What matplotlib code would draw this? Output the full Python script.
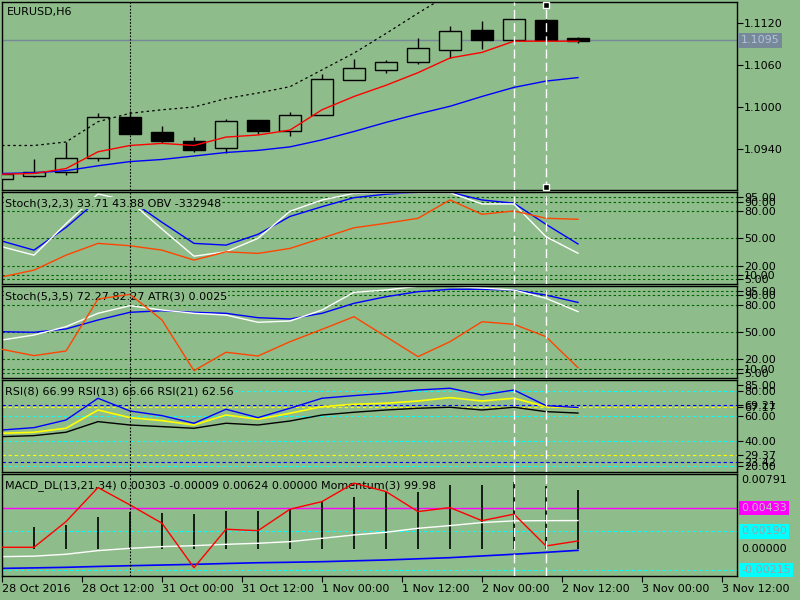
import numpy as np
import matplotlib
matplotlib.use("Agg")
import matplotlib.pyplot as plt
import matplotlib.transforms as mtransforms
from matplotlib.patches import Rectangle

W, H = 800, 600
bg = '#8FBC8B'
FS = 8
plt.rcParams['font.family'] = ['DejaVu Sans']

# ---- data (H6 bars, 28 Oct - 2 Nov 2016) ----
bars = np.arange(19)
open_ = [1.0897, 1.0902, 1.0907, 1.0927, 1.0985, 1.0964, 1.0952, 1.0941, 1.0981, 1.0965,
         1.0988, 1.1038, 1.1053, 1.1064, 1.1082, 1.1110, 1.1095, 1.1124, 1.1098]
high = [1.0904, 1.0925, 1.0950, 1.0991, 1.0994, 1.0973, 1.0957, 1.0983, 1.0982, 1.0993,
        1.1047, 1.1069, 1.1067, 1.1099, 1.1116, 1.1123, 1.1125, 1.1125, 1.1100]
low = [1.0897, 1.0900, 1.0903, 1.0923, 1.0962, 1.0949, 1.0936, 1.0934, 1.0962, 1.0959,
       1.0988, 1.1038, 1.1049, 1.1061, 1.1070, 1.1083, 1.1095, 1.1096, 1.1092]
close = [1.0904, 1.0907, 1.0927, 1.0985, 1.0962, 1.0952, 1.0939, 1.0980, 1.0965, 1.0988,
         1.1040, 1.1055, 1.1064, 1.1084, 1.1108, 1.1096, 1.1125, 1.1096, 1.1094]
ma_fast = [1.0904, 1.0905, 1.0912, 1.0936, 1.0945, 1.0948, 1.0945, 1.0957, 1.0960, 1.0967,
           1.0996, 1.1015, 1.1031, 1.1049, 1.1070, 1.1078, 1.1094, 1.1094, 1.1094]
ma_slow = [1.0905, 1.0906, 1.0909, 1.0916, 1.0922, 1.0925, 1.0930, 1.0935, 1.0938, 1.0943,
           1.0953, 1.0965, 1.0978, 1.0990, 1.1001, 1.1015, 1.1028, 1.1037, 1.1042]
band_up = [1.0945, 1.0945, 1.0950, 1.0979, 1.0991, 1.0996, 1.1000, 1.1012, 1.1020, 1.1029,
           1.1053, 1.1077, 1.1105, 1.1134, 1.1162, np.nan, np.nan, np.nan, np.nan]
bid = 1.1095

# Stoch(3,2,3) + OBV
st1_signal = [47.0, 37.1, 62.0, 92.0, 92.0, 67.6, 44.5, 42.6, 54.4, 74.0,
              84.7, 94.6, 98.4, 100.5, 100.5, 92.1, 88.5, 65.4, 43.88]
st1_main = [40.8, 31.6, 66.0, 98.7, 90.6, 60.2, 30.5, 35.3, 50.0, 79.7,
            92.0, 99.4, 100.0, 100.0, 100.0, 87.7, 87.7, 51.8, 33.71]
obv = [7.8, 15.2, 31.6, 44.5, 41.9, 37.1, 26.2, 35.3, 33.5, 39.0,
       50.3, 61.6, 66.5, 72.0, 92.1, 76.4, 80.0, 72.0, 70.9]
stoch_levels = [5, 10, 20, 50, 80, 90, 95]

# Stoch(5,3,5) + ATR
st2_signal = [50.3, 49.7, 53.3, 63.1, 71.5, 73.2, 71.5, 70.4, 65.6, 64.2,
              70.4, 81.3, 88.5, 94.0, 96.6, 96.6, 95.8, 90.3, 82.27]
st2_main = [41.3, 46.7, 55.8, 70.4, 78.7, 74.0, 70.4, 68.5, 60.6, 62.0,
            74.0, 93.3, 95.8, 100.0, 100.0, 98.0, 95.8, 86.8, 72.27]
atr = [31.1, 24.2, 29.3, 86.0, 91.1, 63.1, 7.8, 27.9, 23.8, 39.4,
       52.9, 66.7, 44.9, 23.1, 39.4, 61.2, 58.4, 44.9, 11.1]

# RSI 8 / 13 / 21
rsi8 = [49.0, 50.9, 57.0, 74.4, 64.2, 60.5, 54.4, 65.6, 58.9, 66.4,
        74.4, 76.5, 78.4, 81.0, 82.4, 77.0, 81.0, 68.5, 66.99]
rsi13 = [46.4, 47.2, 50.4, 65.0, 58.9, 56.5, 53.0, 61.0, 57.6, 62.4,
         67.7, 69.6, 70.4, 72.2, 74.9, 72.2, 74.4, 67.7, 66.66]
rsi21 = [43.7, 44.5, 47.2, 55.7, 53.0, 51.7, 50.4, 54.4, 53.0, 56.2,
         61.0, 63.2, 65.0, 66.4, 67.2, 65.0, 67.2, 63.7, 62.56]
rsi_cyan_levels = [20, 40, 60, 80]
rsi8_levels = [23.42, 69.21]
rsi13_levels = [29.37, 67.17]

# MACD_DL + Momentum (momentum shown on the MACD scale)
macd_hist = [np.nan, 0.00239, 0.00257, 0.00344, 0.00397, 0.00386, 0.00373, 0.00407, 0.00407, 0.00425,
             0.00509, 0.00554, 0.00607, 0.00607, 0.00677, 0.00677, 0.00702, 0.00667, 0.00624]
macd_line = [-0.00075, -0.00070, -0.00050, -0.00012, 0.00012, 0.00030, 0.00040, 0.00054, 0.00065, 0.00082,
             0.00117, 0.00152, 0.00180, 0.00222, 0.00250, 0.00282, 0.00300, 0.00302, 0.00303]
macd_sig = [-0.00198, -0.00193, -0.00187, -0.00178, -0.00170, -0.00163, -0.00156, -0.00147, -0.00139, -0.00134,
            -0.00128, -0.00119, -0.00110, -0.00098, -0.00086, -0.00068, -0.00050, -0.00030, -0.00009]
momentum = [0.00023, 0.00023, 0.00292, 0.00649, 0.00467, 0.00275, -0.00191, 0.00212, 0.00197, 0.00422,
            0.00502, 0.00695, 0.00607, 0.00397, 0.00439, 0.00302, 0.00370, 0.00037, 0.00089]
macd_magenta = 0.00433
macd_cyan = [0.00190, -0.00215]
macd_top = 0.00791

time_labels = ["28 Oct 2016", "28 Oct 12:00", "31 Oct 00:00", "31 Oct 12:00", "1 Nov 00:00",
               "1 Nov 12:00", "2 Nov 00:00", "2 Nov 12:00", "3 Nov 00:00", "3 Nov 12:00"]
time_pos = [0, 2.5, 5, 7.5, 10, 12.5, 15, 17.5, 20, 22.5]
cross_bar = 4
marked_bars = [16, 17]

fig = plt.figure(figsize=(W / 100, H / 100), dpi=100, facecolor=bg)


def make_panel(top, bottom, ylim):
    ax = fig.add_axes([2 / W, 1 - bottom / H, 735 / W, (bottom - top) / H])
    ax.set_facecolor(bg)
    ax.set_xlim(0, 22.97)
    ax.set_ylim(*ylim)
    for s in ax.spines.values():
        s.set_color('black')
        s.set_linewidth(1)
    ax.tick_params(axis='x', bottom=False, labelbottom=False)
    ax.yaxis.tick_right()
    ax.tick_params(axis='y', right=True, left=False, direction='out', length=4,
                   width=0.8, pad=1, labelsize=FS, colors='black')
    ax.axvline(cross_bar, color='black', lw=0.8, ls=(0, (1.5, 1.5)), zorder=6)
    for b in marked_bars:
        ax.axvline(b, color='white', lw=1, ls=(0, (6.5, 3)), zorder=6)
    return ax


def title(ax, txt, yfrac, xpx=3):
    ax.text(xpx / 735, yfrac, txt, transform=ax.transAxes, fontsize=FS, va='center',
            ha='left', zorder=4, bbox=dict(boxstyle='square,pad=0.05', fc=bg, ec='none'))


def levels(ax, vals, color, dash=(2.2, 2.2)):
    for v in vals:
        ax.axhline(v, color=color, lw=0.8, ls=(0, dash), zorder=1)


# ---- main price panel ----
ax1 = make_panel(2, 190, (1.08814, 1.1150))
ax1.axhline(bid, color='#778899', lw=1, zorder=1)
for i in bars:
    o, h, l, c = open_[i], high[i], low[i], close[i]
    ax1.vlines(i, l, h, color='black', lw=1, zorder=2)
    bear = c < o
    ax1.add_patch(Rectangle((i - 0.34, min(o, c)), 0.68, max(abs(c - o), 0.00003),
                            fc='black' if bear else bg, ec='black', lw=1, zorder=3))
ax1.plot(bars, ma_slow, color='blue', lw=1, zorder=4)
ax1.plot(bars, ma_fast, color='red', lw=1, zorder=4)
ax1.plot(bars, band_up, color='black', lw=0.9, ls=(0, (2, 2.5)), zorder=4)
ax1.set_yticks([1.0940, 1.1000, 1.1060, 1.1120])
ax1.set_yticklabels(['1.0940', '1.1000', '1.1060', '1.1120'])
tr1 = mtransforms.blended_transform_factory(ax1.transAxes, ax1.transData)
ax1.text(1.005, bid, '1.1095', transform=tr1, fontsize=FS, color='#B0C4DE', va='center',
         ha='left', bbox=dict(boxstyle='square,pad=0.2', fc='#778899', ec='none'), clip_on=False)
trm = mtransforms.blended_transform_factory(ax1.transData, ax1.transAxes)
ax1.plot([17, 17], [0.985, 0.016], 's', ms=4, mfc='black', mec='white', mew=1,
         transform=trm, zorder=7, clip_on=False)
title(ax1, 'EURUSD,H6', 0.947, xpx=5)

# ---- Stoch(3,2,3) / OBV ----
ax2 = make_panel(192, 284, (0, 100.8))
levels(ax2, stoch_levels, '#006400')
ax2.plot(bars, st1_signal, color='blue', lw=1, zorder=2)
ax2.plot(bars, st1_main, color='white', lw=1, zorder=2)
ax2.plot(bars, obv, color='#FF4500', lw=1, zorder=2)
ax2.set_yticks(stoch_levels)
ax2.set_yticklabels(['%.2f' % v for v in stoch_levels])
title(ax2, 'Stoch(3,2,3) 33.71 43.88 OBV -332948', 0.88)

# ---- Stoch(5,3,5) / ATR ----
ax3 = make_panel(286, 378, (-0.2, 100.2))
levels(ax3, stoch_levels, '#006400')
ax3.plot(bars, st2_signal, color='blue', lw=1, zorder=2)
ax3.plot(bars, st2_main, color='white', lw=1, zorder=2)
ax3.plot(bars, atr, color='#FF4500', lw=1, zorder=5)
ax3.set_yticks(stoch_levels)
ax3.set_yticklabels(['%.2f' % v for v in stoch_levels])
title(ax3, 'Stoch(5,3,5) 72.27 82.27 ATR(3) 0.0025', 0.884)

# ---- RSI ----
ax4 = make_panel(380, 472, (15.4, 89.0))
levels(ax4, rsi_cyan_levels, 'cyan', (3, 2.5))
levels(ax4, rsi13_levels, 'yellow', (3, 2.5))
levels(ax4, rsi8_levels, 'blue', (3, 2.5))
ax4.plot(bars, rsi21, color='black', lw=1, zorder=2)
ax4.plot(bars, rsi13, color='yellow', lw=1.2, zorder=2)
ax4.plot(bars, rsi8, color='blue', lw=1, zorder=2)
rsi_ticks = sorted(rsi_cyan_levels + rsi8_levels + rsi13_levels + [85])
ax4.set_yticks(rsi_ticks)
ax4.set_yticklabels(['%.2f' % v for v in rsi_ticks])
title(ax4, 'RSI(8) 66.99 RSI(13) 66.66 RSI(21) 62.56', 0.88)

# ---- MACD / Momentum ----
ax5 = make_panel(474, 576, (-0.00278, macd_top))
ax5.axhline(macd_magenta, color='magenta', lw=1, zorder=1)
levels(ax5, macd_cyan, 'cyan', (3, 2.5))
ax5.vlines(bars, 0, macd_hist, color='black', lw=1.2, zorder=2)
ax5.plot(bars, macd_line, color='white', lw=1, zorder=2)
ax5.plot(bars, macd_sig, color='blue', lw=1.2, zorder=2)
ax5.plot(bars, momentum, color='red', lw=1, zorder=5)
ax5.tick_params(axis='y', right=False, labelright=False)
tr5 = mtransforms.blended_transform_factory(ax5.transAxes, ax5.transData)
ax5.text(1.006, 0.00730, '%.5f' % macd_top, transform=tr5, fontsize=FS, va='center', ha='left')
ax5.text(1.006, 0.0, '0.00000', transform=tr5, fontsize=FS, va='center', ha='left')
ax5.text(1.006, macd_magenta, '%.5f' % macd_magenta, transform=tr5, fontsize=FS, va='center',
         ha='left', color='#C0C0C0', bbox=dict(boxstyle='square,pad=0.2', fc='magenta', ec='none'))
for v in macd_cyan:
    ax5.text(1.006, v, '%.5f' % v, transform=tr5, fontsize=FS, va='center', ha='left',
             color='#A0A0A0', bbox=dict(boxstyle='square,pad=0.2', fc='cyan', ec='none'))
title(ax5, 'MACD_DL(13,21,34) 0.00303 -0.00009 0.00624 0.00000 Momentum(3) 99.98', 0.89)
ax5.tick_params(axis='x', bottom=True, labelbottom=True, direction='out', length=4,
                width=0.8, pad=2, labelsize=FS, colors='black')
ax5.set_xticks(time_pos)
ax5.set_xticklabels(time_labels)
for lab in ax5.get_xticklabels():
    lab.set_ha('left')

fig.savefig('out.png', dpi=100, facecolor=bg)
